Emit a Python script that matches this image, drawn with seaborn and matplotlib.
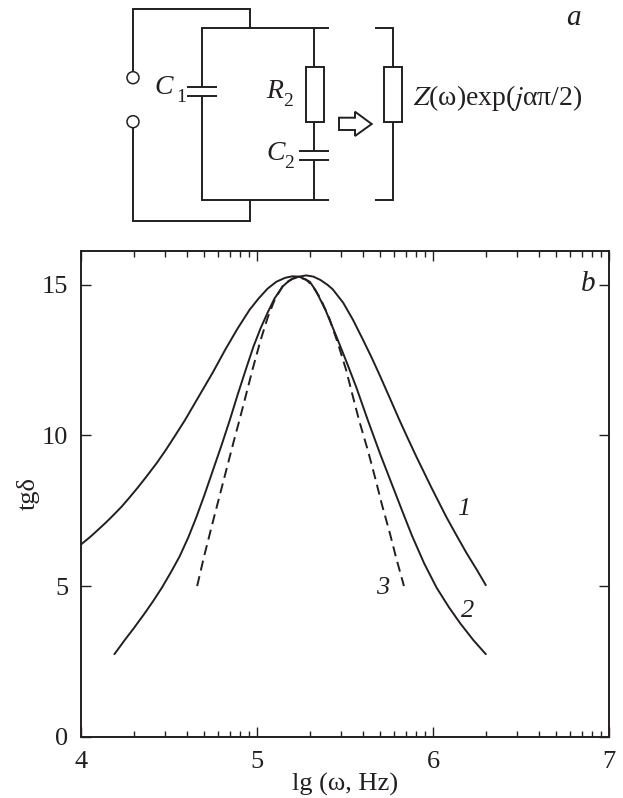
import numpy as np
import pandas as pd
import matplotlib.pyplot as plt
import seaborn as sns
from matplotlib.patches import Circle, Polygon, Rectangle

sns.set_theme(style="ticks")
plt.rcParams['font.family'] = ['Liberation Serif', 'DejaVu Serif']
plt.rcParams['mathtext.fontset'] = 'stix'

INK = '#231f20'
W, H = 623, 798

# curve values
curve1_x = [4.19, 4.25, 4.30, 4.36, 4.41, 4.46, 4.51, 4.56, 4.61, 4.655, 4.70, 4.75, 4.80, 4.845,
            4.89, 4.94, 4.98, 5.02, 5.06, 5.10, 5.147, 5.18, 5.21, 5.24, 5.28, 5.32, 5.36, 5.40,
            5.43, 5.49, 5.545, 5.60, 5.65, 5.697, 5.75, 5.81, 5.857, 5.905, 5.99, 6.075, 6.13,
            6.19, 6.25, 6.30]
curve1_y = [2.74, 3.22, 3.6, 4.08, 4.5, 4.95, 5.45, 5.98, 6.62, 7.28, 8.0, 8.85, 9.7, 10.5,
            11.35, 12.25, 12.95, 13.55, 14.07, 14.55, 14.95, 15.12, 15.22, 15.27, 15.31, 15.27,
            15.16, 15.0, 14.85, 14.4, 13.84, 13.2, 12.6, 12.0, 11.3, 10.5, 9.9, 9.3, 8.28,
            7.3, 6.72, 6.1, 5.53, 5.03]
curve2_x = [4.0, 4.05, 4.09, 4.14, 4.18, 4.23, 4.27, 4.32, 4.37, 4.43, 4.48, 4.53, 4.59, 4.67,
            4.75, 4.82, 4.89, 4.958, 5.01, 5.06, 5.11, 5.16, 5.20, 5.24, 5.30, 5.335, 5.39, 5.45,
            5.51, 5.564, 5.63, 5.70, 5.775, 5.83, 5.88, 5.95, 6.02, 6.09, 6.155, 6.23, 6.30]
curve2_y = [6.38, 6.62, 6.83, 7.1, 7.33, 7.63, 7.9, 8.25, 8.62, 9.08, 9.5, 9.95, 10.5, 11.3,
            12.1, 12.85, 13.55, 14.17, 14.55, 14.87, 15.1, 15.23, 15.28, 15.27, 15.1, 14.8,
            14.15, 13.3, 12.42, 11.6, 10.5, 9.38, 8.25, 7.42, 6.68, 5.75, 4.95, 4.3, 3.76, 3.2, 2.74]
curve3_x = [4.66, 4.70, 4.75, 4.79, 4.83, 4.87, 4.90, 4.94, 4.977, 5.02, 5.06, 5.10, 5.15, 5.20,
            5.24, 5.28, 5.316, 5.36, 5.41, 5.46, 5.506, 5.54, 5.58, 5.63, 5.67, 5.71, 5.755,
            5.79, 5.835]
curve3_y = [5.0, 6.0, 7.15, 8.05, 8.95, 9.85, 10.5, 11.4, 12.24, 13.15, 13.9, 14.5, 15.0, 15.2,
            15.25, 15.17, 14.95, 14.55, 13.9, 13.05, 12.18, 11.4, 10.5, 9.5, 8.62, 7.7, 6.75,
            5.95, 5.0]

x_ticks = [4, 5, 6, 7]
y_ticks = [0, 5, 10, 15]


def make_curve_table():
    frames = []
    for name, xs, ys in [('1', curve1_x, curve1_y), ('2', curve2_x, curve2_y), ('3', curve3_x, curve3_y)]:
        frames.append(pd.DataFrame({'lg': xs, 'tg': ys, 'curve': name}))
    return pd.concat(frames, ignore_index=True)


def draw_plot(fig):
    left, right, top, bottom = 81, 609, 250.7, 736.7
    ax = fig.add_axes([left / W, 1 - bottom / H, (right - left) / W, (bottom - top) / H])
    df = make_curve_table()
    sns.lineplot(data=df[df['curve'] != '3'], x='lg', y='tg', units='curve', estimator=None,
                 sort=False, color=INK, lw=1.4, ax=ax)
    sns.lineplot(data=df[df['curve'] == '3'], x='lg', y='tg', estimator=None,
                 sort=False, color=INK, lw=1.4, ax=ax)
    ax.lines[-1].set_dashes([5.2, 3.0])
    ax.set_xlim(4, 7)
    ax.set_ylim(0, 16.13)
    ax.set_xticks(x_ticks)
    ax.set_yticks(y_ticks)
    # log spaced minor ticks inside every decade
    minor = [d + np.log10(k) for d in x_ticks[:-1] for k in range(2, 10)]
    ax.set_xticks(minor, minor=True)
    ax.tick_params(which='major', direction='in', top=True, right=True, length=7.2, width=1,
                   color=INK, labelcolor=INK, labelsize=19)
    ax.tick_params(which='minor', direction='in', top=True, length=4, width=1, color=INK)
    ax.tick_params(axis='y', pad=9)
    ax.tick_params(axis='x', pad=10)
    for s in ax.spines.values():
        s.set_linewidth(1.4)
        s.set_color(INK)
    ax.set_xlabel('lg (ω, Hz)', fontsize=19, color=INK, labelpad=0)
    ax.set_ylabel('tgδ', fontsize=19, color=INK, labelpad=2)


def draw_schematic(fig):
    ax = fig.add_axes([0, 0, 1, 1], facecolor='none')
    ax.set_xlim(0, W)
    ax.set_ylim(H, 0)
    ax.axis('off')
    wires = [
        ([133, 133, 250, 250], [72, 9, 9, 28]),
        ([133, 133, 250, 250], [128, 220.7, 220.7, 200]),
        ([328.5, 202.3, 202.3], [28, 28, 86.5]),
        ([202.3, 202.3, 328.5], [96, 200, 200]),
        ([187.3, 217.3], [86.5, 86.5]),
        ([187.3, 217.3], [95.7, 95.7]),
        ([314.3, 314.3], [28, 66.7]),
        ([314.3, 314.3], [122.3, 150.7]),
        ([299.3, 329.3], [150.7, 150.7]),
        ([299.3, 329.3], [159.7, 159.7]),
        ([314.3, 314.3], [159.7, 200]),
        ([375, 392.7, 392.7], [28, 28, 66.7]),
        ([392.7, 392.7, 375], [122.3, 200, 200]),
    ]
    for xs, ys in wires:
        ax.plot(xs, ys, color=INK, lw=1.4, solid_capstyle='butt', solid_joinstyle='miter')
    for x0, w in [(306, 18), (384.3, 18)]:
        ax.add_patch(Rectangle((x0, 66.7), w, 55.6, fill=False, ec=INK, lw=1.4))
    for cy in [77.7, 121.7]:
        ax.add_patch(Circle((133, cy), 6, fc='white', ec=INK, lw=1.1))
    arrow = [(339, 117.7), (355, 117.7), (355, 111.7), (371.7, 124), (355, 136), (355, 130), (339, 130)]
    ax.add_patch(Polygon(arrow, closed=True, fill=False, ec=INK, lw=1.4))

    # symbols and their subscripts are separate texts
    for x, y, s in [(164, 88, 'C'), (275, 91, 'R'), (276, 153, 'C')]:
        ax.text(x, y, s, fontsize=20, style='italic', color=INK, ha='center', va='center')
    for x, y, s in [(181, 97, '1'), (288, 102, '2'), (289, 164, '2')]:
        ax.text(x, y, s, fontsize=14, color=INK, ha='center', va='center')
    ax.text(413, 98, r'$\mathit{Z}$(ω)exp($\mathit{j}$απ/2)', fontsize=20, color=INK, ha='left', va='center')
    for x, y, s, size in [(573, 18, 'a', 21), (588, 284, 'b', 21), (464, 509, '1', 19),
                          (468, 611, '2', 19), (383, 588, '3', 19)]:
        ax.text(x, y, s, fontsize=size, style='italic', color=INK, ha='center', va='center')


def main():
    fig = plt.figure(figsize=(W / 100, H / 100), dpi=100, facecolor='white')
    draw_plot(fig)
    draw_schematic(fig)
    fig.savefig('out.png', dpi=100, facecolor='white')


main()
